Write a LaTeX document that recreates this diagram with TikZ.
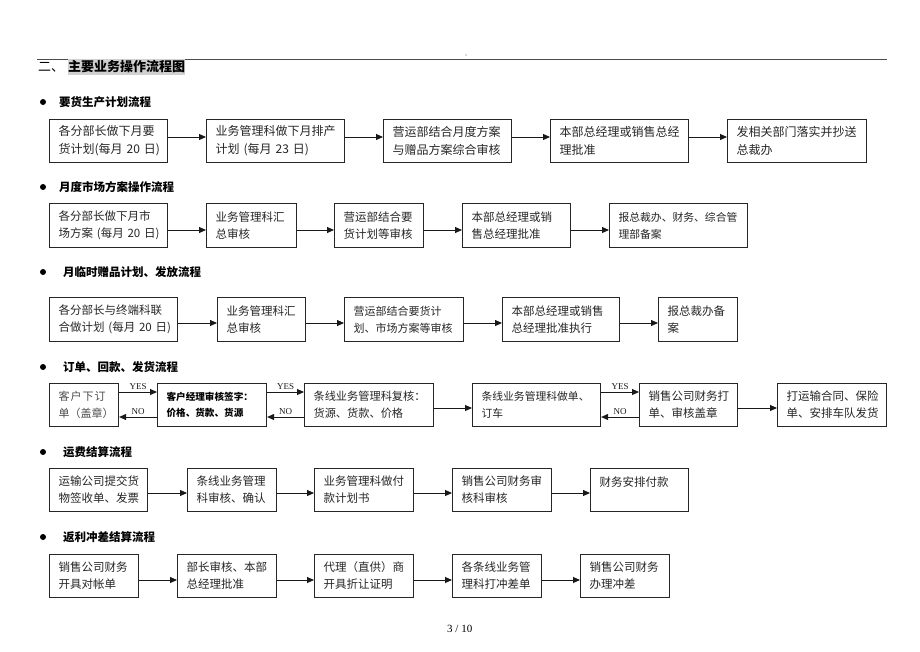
\documentclass[tikz,border=0pt]{standalone}
\usepackage{fontspec}
\setmainfont{Liberation Serif}
\newfontfamily\cjk{Noto Sans CJK SC}
\usetikzlibrary{arrows.meta}
\tikzset{
 box/.style={draw=black!85, line width=1.1pt, anchor=north west, inner xsep=9pt, inner ysep=0pt,
   align=left, text=black!85, font=\cjk\fontsize{11.5}{17}\selectfont},
 big/.style={font=\cjk\fontsize{12}{18}\selectfont},
 arr/.style={-{Triangle[length=7pt,width=6pt]}, line width=0.9pt, black!90},
 head/.style={anchor=west, inner sep=0pt, font=\cjk\bfseries\fontsize{11.5}{14}\selectfont},
 bul/.style={circle, fill=black, inner sep=0pt, minimum size=6pt},
 lbl/.style={above, inner sep=1.5pt, font=\fontsize{9}{10}\selectfont},
}
\newcommand\bx[7][]{%
 \pgfmathsetmacro\bxw{#4-#3}\pgfmathsetmacro\bxh{#6-#5}\pgfmathsetmacro\bxt{#4-#3-18}%
 \node[box, minimum width=\bxw pt, minimum height=\bxh pt, text width=\bxt pt, #1] (#2) at (#3,#5) {#7};}
\begin{document}
\begin{tikzpicture}[x=1pt,y=-1pt]
\useasboundingbox (0,0) rectangle (920,651);
\fill[white] (0,0) rectangle (920,651);
% header
\draw[line width=0.8pt, black!70] (37,59) -- (887,59);
\fill[black!60] (466,55) circle (0.6pt);
\node[anchor=west, inner sep=0pt, font=\cjk\fontsize{13}{15}\selectfont] (t0) at (38,67) {二、};
\node[anchor=west, fill=black!18, inner xsep=0pt, inner ysep=1.5pt, font=\cjk\bfseries\fontsize{13}{15}\selectfont] (t1) at (68,67) {主要业务操作流程图};
% row 1
\node[bul] (hb1) at (43,102) {};
\node[head] (h1) at (59,102) {要货生产计划流程};
\bx[big]{b1}{49}{167}{119}{162}{各分部长做下月要\\货计划(每月~20~日)}
\bx[big]{b2}{206}{344}{119}{162}{业务管理科做下月排产\\计划~(每月~23~日)}
\bx[big]{b3}{383}{511}{119}{162}{营运部结合月度方案\\与赠品方案综合审核}
\bx[big]{b4}{550}{688}{119}{162}{本部总经理或销售总经\\理批准}
\bx[big]{b5}{727}{866}{119}{162}{发相关部门落实并抄送\\总裁办}
\coordinate (r1) at (0,137);
\draw[arr] (b1.east |- r1) -- (b2.west |- r1);
\draw[arr] (b2.east |- r1) -- (b3.west |- r1);
\draw[arr] (b3.east |- r1) -- (b4.west |- r1);
\draw[arr] (b4.east |- r1) -- (b5.west |- r1);
% row 2
\node[bul] (hb2) at (43,187) {};
\node[head] (h2) at (59,187) {月度市场方案操作流程};
\bx{c1}{49}{167}{203}{247}{各分部长做下月市\\场方案~(每月~20~日)}
\bx{c2}{206}{296}{203}{247}{业务管理科汇\\总审核}
\bx{c3}{334}{423}{203}{247}{营运部结合要\\货计划等审核}
\bx{c4}{462}{570}{203}{247}{本部总经理或销\\售总经理批准}
\bx[font=\cjk\fontsize{10.8}{17}\selectfont]{c5}{609}{747}{203}{247}{报总裁办、财务、综合管\\理部备案}
\coordinate (r2) at (0,230);
\draw[arr] (c1.east |- r2) -- (c2.west |- r2);
\draw[arr] (c2.east |- r2) -- (c3.west |- r2);
\draw[arr] (c3.east |- r2) -- (c4.west |- r2);
\draw[arr] (c4.east |- r2) -- (c5.west |- r2);
% row 3
\node[bul] (hb3) at (43,272) {};
\node[head] (h3) at (63,272) {月临时赠品计划、发放流程};
\bx{d1}{49}{177}{297}{341}{各分部长与终端科联\\合做计划~(每月~20~日)}
\bx{d2}{217}{305}{297}{341}{业务管理科汇\\总审核}
\bx[font=\cjk\fontsize{11}{17}\selectfont]{d3}{344}{463}{297}{341}{营运部结合要货计\\划、市场方案等审核}
\bx{d4}{502}{619}{297}{341}{本部总经理或销售\\总经理批准执行}
\bx{d5}{658}{737}{297}{341}{报总裁办备\\案}
\coordinate (r3) at (0,323);
\draw[arr] (d1.east |- r3) -- (d2.west |- r3);
\draw[arr] (d2.east |- r3) -- (d3.west |- r3);
\draw[arr] (d3.east |- r3) -- (d4.west |- r3);
\draw[arr] (d4.east |- r3) -- (d5.west |- r3);
% row 4
\node[bul] (hb4) at (43,367) {};
\node[head] (h4) at (63,367) {订单、回款、发货流程};
\bx[font=\cjk\fontsize{11}{17}\selectfont, text=black!70]{e1}{49}{118}{383}{426}{客\kern1pt 户\kern1pt 下\kern1pt 订\\单（盖章）}
\bx[font=\cjk\bfseries\fontsize{9.6}{16}\selectfont, text=black]{e2}{157}{266}{383}{426}{客户经理审核签字：\\价格、货款、货源}
\bx[font=\cjk\fontsize{11.2}{17}\selectfont]{e3}{304}{433}{383}{426}{条线业务管理科复核：\\货源、货款、价格}
\bx[font=\cjk\fontsize{10.8}{17}\selectfont]{e4}{472}{600}{383}{426}{条线业务管理科做单、\\订车}
\bx{e5}{639}{737}{383}{426}{销售公司财务打\\单、审核盖章}
\bx{e6}{777}{886}{383}{426}{打运输合同、保险\\单、安排车队发货}
\coordinate (ya) at (0,392);
\coordinate (na) at (0,417);
\coordinate (r4) at (0,408);
\draw[arr] (e1.east |- ya) -- node[lbl] (y1) {YES} (e2.west |- ya);
\draw[arr] (e2.west |- na) -- node[lbl] (n1) {NO} (e1.east |- na);
\draw[arr] (e2.east |- ya) -- node[lbl] (y2) {YES} (e3.west |- ya);
\draw[arr] (e3.west |- na) -- node[lbl] (n2) {NO} (e2.east |- na);
\draw[arr] (e3.east |- r4) -- (e4.west |- r4);
\draw[arr] (e4.east |- ya) -- node[lbl] (y3) {YES} (e5.west |- ya);
\draw[arr] (e5.west |- na) -- node[lbl] (n3) {NO} (e4.east |- na);
\draw[arr] (e5.east |- r4) -- (e6.west |- r4);
% row 5
\node[bul] (hb5) at (43,452) {};
\node[head] (h5) at (63,452) {运费结算流程};
\bx{f1}{49}{147}{468}{511}{运输公司提交货\\物签收单、发票}
\bx{f2}{187}{276}{468}{511}{条线业务管理\\科审核、确认}
\bx{f3}{314}{413}{468}{511}{业务管理科做付\\款计划书}
\bx{f4}{452}{551}{468}{511}{销售公司财务审\\核科审核}
\bx{f5}{590}{688}{468}{511}{财务安排付款\\\mbox{}}
\coordinate (r5) at (0,493);
\draw[arr] (f1.east |- r5) -- (f2.west |- r5);
\draw[arr] (f2.east |- r5) -- (f3.west |- r5);
\draw[arr] (f3.east |- r5) -- (f4.west |- r5);
\draw[arr] (f4.east |- r5) -- (f5.west |- r5);
% row 6
\node[bul] (hb6) at (43,537) {};
\node[head] (h6) at (63,537) {返利冲差结算流程};
\bx{g1}{49}{138}{554}{597}{销售公司财务\\开具对帐单}
\bx{g2}{177}{276}{554}{597}{部长审核、本部\\总经理批准}
\bx{g3}{314}{413}{554}{597}{代理（直供）商\\开具折让证明}
\bx{g4}{452}{541}{554}{597}{各条线业务管\\理科打冲差单}
\bx{g5}{580}{669}{554}{597}{销售公司财务\\办理冲差}
\coordinate (r6) at (0,580);
\draw[arr] (g1.east |- r6) -- (g2.west |- r6);
\draw[arr] (g2.east |- r6) -- (g3.west |- r6);
\draw[arr] (g3.east |- r6) -- (g4.west |- r6);
\draw[arr] (g4.east |- r6) -- (g5.west |- r6);
% page number
\node[anchor=west, inner sep=0pt, font=\fontsize{11}{12}\selectfont] (pg) at (447,629) {3 / 10};
\end{tikzpicture}
\end{document}
